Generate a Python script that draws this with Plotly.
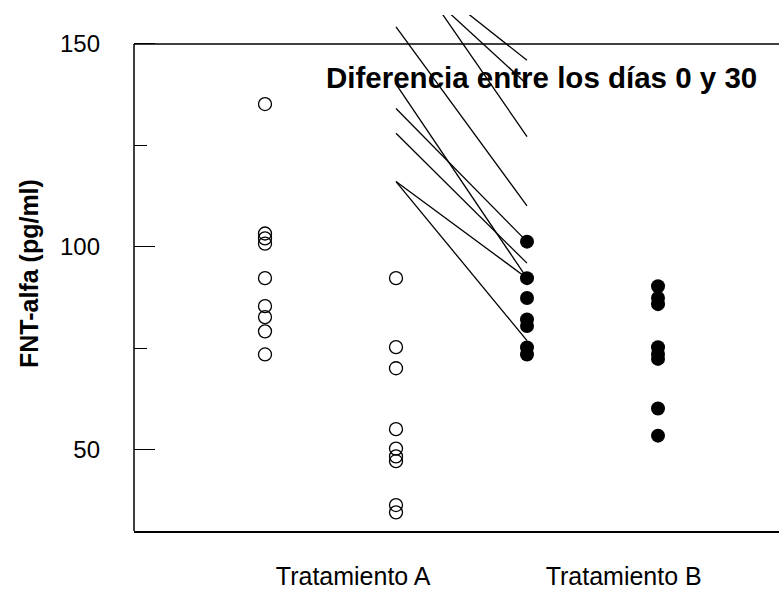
import plotly.graph_objects as go

# ---- data ----
group_positions = [1, 2, 3, 4]
tick_positions = [1.673, 3.738]
tick_labels = ["Tratamiento A", "Tratamiento B"]

tratA_dia0 = [135.2, 103.3, 102.1, 100.8, 92.3, 85.4, 82.7, 79.2, 73.5]
tratA_dia30 = [92.3, 75.3, 70.1, 55.1, 50.3, 48.4, 47.2, 36.4, 34.6]
tratB_dia0 = [101.3, 92.3, 87.4, 82.1, 80.5, 75.2, 73.5]
tratB_dia30 = [90.3, 87.4, 85.9, 75.3, 73.6, 72.4, 60.2, 53.5]

# difference segments: value at x=2 -> value at x=3
seg_start = [154.2, 140.1, 134.1, 128.0, 116.1, 116.1, 173.9, 169.7, 171.5]
seg_end = [110.1, 92.3, 101.3, 96.0, 92.3, 76.9, 127.2, 140.1, 146.0]

y_ticks = [50, 100, 150]
y_minor_ticks = [75, 125]
y_low, y_box_top = 30, 150

title_text = "Diferencia entre los días 0 y 30"
y_title = "FNT-alfa (pg/ml)"

# ---- layout geometry ----
W, H = 779, 590
ml, mr, mt, mb = 134, 0, 15, 56
px_per_unit_y = 4.082
px_per_unit_x = 131.0
plot_w = W - ml - mr
plot_h = H - mt - mb
y_high = y_low + plot_h / px_per_unit_y
x_high = plot_w / px_per_unit_x

FONT = "Liberation Sans, Arial, Helvetica, sans-serif"

fig = go.Figure()

# segments
for s, e in zip(seg_start, seg_end):
    fig.add_trace(go.Scatter(
        x=[group_positions[1], group_positions[2]], y=[s, e],
        mode="lines", line=dict(color="black", width=1.3),
        showlegend=False, hoverinfo="skip"))

def open_pts(xpos, vals):
    fig.add_trace(go.Scatter(
        x=[xpos] * len(vals), y=vals, mode="markers",
        marker=dict(symbol="circle-open", size=13, color="black",
                    line=dict(width=1.3, color="black")),
        showlegend=False))

def filled_pts(xpos, vals):
    fig.add_trace(go.Scatter(
        x=[xpos] * len(vals), y=vals, mode="markers",
        marker=dict(symbol="circle", size=14, color="black",
                    line=dict(width=0)),
        showlegend=False))

open_pts(group_positions[0], tratA_dia0)
open_pts(group_positions[1], tratA_dia30)
filled_pts(group_positions[2], tratB_dia0)
filled_pts(group_positions[3], tratB_dia30)

box_top_paper = (y_box_top - y_low) / (y_high - y_low)
fig.add_shape(type="line", xref="paper", yref="paper",
              x0=0, x1=0, y0=0, y1=box_top_paper,
              line=dict(color="black", width=1.5))
fig.add_shape(type="line", xref="paper", yref="paper",
              x0=0, x1=1.01, y0=box_top_paper, y1=box_top_paper,
              line=dict(color="black", width=1.5))

fig.add_annotation(x=3.112, y=141.8, xref="x", yref="y", text=title_text,
                   showarrow=False, xanchor="center", yanchor="middle",
                   font=dict(family=FONT, size=29.5, color="black", weight="bold"))

fig.add_annotation(x=(29 - ml) / plot_w, y=0.5, xref="paper", yref="paper",
                   text=y_title, textangle=-90, showarrow=False,
                   xanchor="center", yanchor="middle",
                   font=dict(family=FONT, size=25, color="black", weight="bold"))

fig.update_layout(
    width=W, height=H, autosize=False,
    margin=dict(l=ml, r=mr, t=mt, b=mb, pad=0),
    paper_bgcolor="white", plot_bgcolor="white",
    font=dict(family=FONT, color="black"),
    xaxis=dict(range=[0, x_high], showgrid=False, zeroline=False,
               showline=True, linecolor="black", linewidth=1.5,
               tickmode="array", tickvals=tick_positions, ticktext=tick_labels,
               ticks="", tickfont=dict(size=25, family=FONT, color="black"),
               ticklabelstandoff=22),
    yaxis=dict(range=[y_low, y_high], showgrid=False, zeroline=False,
               showline=False,
               tickmode="array", tickvals=y_ticks,
               ticktext=[str(v) for v in y_ticks],
               ticks="inside", ticklen=21, tickwidth=1.3, tickcolor="black",
               minor=dict(tickmode="array", tickvals=y_minor_ticks,
                          ticks="inside", ticklen=13, tickwidth=1.3,
                          tickcolor="black", showgrid=False),
               tickfont=dict(size=24, family=FONT, color="black"),
               ticklabelstandoff=33),
)

fig.write_html("out.html")
